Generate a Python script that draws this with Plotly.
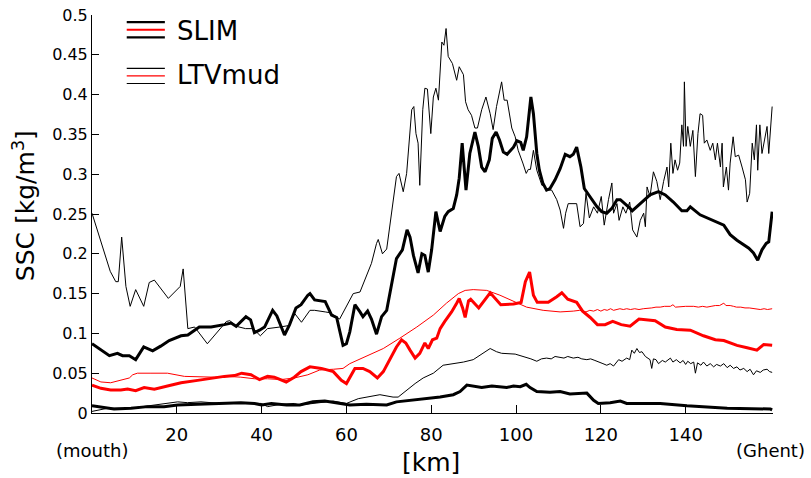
import plotly.graph_objects as go

# ---------------- data (km along estuary, SSC kg/m^3) ----------------
slim_upper = [(0,0.087),(2.1,0.079),(4.1,0.072),(6.0,0.075),(7.2,0.072),(8.8,0.072),(10.3,0.067),(12.2,0.083),
    (14.3,0.078),(16.2,0.084),(18.2,0.091),(21.0,0.097),(22.6,0.098),(25.3,0.108),(28.1,0.108),(31.2,0.111),
    (32.8,0.113),(34.0,0.109),(36.3,0.121),(37.4,0.117),(38.3,0.101),(39.5,0.104),(40.7,0.108),(42.6,0.129),
    (43.6,0.122),(45.4,0.098),(46.6,0.111),(48.1,0.132),(49.3,0.136),(50.9,0.148),(51.4,0.150),(52.5,0.142),
    (55.0,0.140),(56.5,0.123),(57.7,0.120),(59.2,0.085),(60.0,0.087),(60.8,0.102),(62.0,0.136),(63.2,0.127),
    (63.9,0.121),(65.0,0.128),(65.9,0.118),(67.1,0.099),(68.3,0.121),(69.5,0.129),(71.8,0.194),(73.2,0.205),
    (74.3,0.230),(75.0,0.221),(75.8,0.198),(76.9,0.176),(77.8,0.200),(78.5,0.198),(79.3,0.177),(80.1,0.205),
    (81.1,0.253),(82.1,0.228),(83.2,0.247),(84.0,0.253),(85.2,0.257),(86.0,0.274),(86.6,0.295),(87.3,0.339),
    (88.2,0.280),(89.1,0.326),(90.3,0.353),(91.1,0.335),(91.9,0.309),(92.7,0.303),(93.7,0.318),(94.4,0.345),
    (95.3,0.353),(96.1,0.343),(97.0,0.328),(97.9,0.325),(99.4,0.334),(100.2,0.342),(101.1,0.340),(101.7,0.330),
    (102.5,0.347),(103.5,0.397),(104.1,0.376),(104.9,0.326),(105.5,0.305),(106.3,0.289),(107.2,0.280),
    (108.0,0.282),(109.2,0.293),(110.4,0.307),(111.6,0.325),(112.7,0.322),(113.5,0.325),(114.3,0.334),
    (115.3,0.309),(116.1,0.282),(117.5,0.272),(119.1,0.259),(120.2,0.253),(121.4,0.251),(122.6,0.257),
    (123.8,0.268),(124.6,0.268),(125.7,0.263),(126.9,0.257),(127.4,0.254),(129.3,0.263),(131.6,0.274),
    (133.6,0.278),(135.2,0.274),(137.1,0.265),(139.1,0.254),(140.3,0.254),(141.1,0.259),(143.4,0.249),
    (145.0,0.245),(147.4,0.240),(149.0,0.236),(150.5,0.224),(152.1,0.217),(154.9,0.207),(156.0,0.201),
    (157.0,0.192),(158.0,0.205),(159.0,0.213),(159.6,0.215),(160.4,0.253)]

slim_mean = [(0,0.035),(2.1,0.031),(4.4,0.029),(6.8,0.029),(8.4,0.030),(10.3,0.028),(12.3,0.032),(14.7,0.030),
    (17.8,0.034),(21.0,0.038),(24.9,0.041),(28.1,0.044),(31.2,0.046),(33.6,0.047),(35.3,0.050),(37.5,0.048),
    (39.5,0.042),(41.4,0.046),(43.0,0.045),(45.8,0.039),(47.7,0.045),(49.3,0.052),(51.4,0.058),(54.1,0.056),
    (56.9,0.052),(58.8,0.041),(60.0,0.037),(62.0,0.056),(63.9,0.056),(65.5,0.052),(67.3,0.044),(68.7,0.052),
    (70.2,0.067),(71.8,0.083),(73.0,0.092),(74.0,0.088),(75.0,0.079),(76.2,0.069),(77.3,0.075),(78.5,0.088),
    (79.3,0.081),(80.3,0.092),(81.3,0.094),(82.1,0.106),(83.2,0.115),(84.8,0.127),(86.0,0.138),(86.6,0.144),
    (87.4,0.132),(88.0,0.120),(88.8,0.141),(89.3,0.143),(91.2,0.132),(93.9,0.151),(96.4,0.136),(99.4,0.137),
    (101.2,0.139),(102.2,0.165),(103.2,0.177),(104.1,0.148),(105.0,0.139),(107.6,0.139),(109.6,0.146),
    (110.8,0.151),(112.2,0.143),(113.5,0.140),(114.3,0.139),(115.7,0.128),(117.5,0.120),(119.2,0.111),
    (121.0,0.111),(122.8,0.115),(124.8,0.111),(126.9,0.109),(129.0,0.118),(132.8,0.116),(135.2,0.108),
    (137.9,0.105),(141.1,0.104),(144.2,0.097),(147.0,0.092),(149.0,0.091),(152.1,0.085),(154.5,0.082),
    (156.8,0.079),(158.4,0.086),(160.4,0.085)]

slim_lower = [(0,0.009),(2.9,0.007),(5.2,0.005),(9.2,0.006),(13.1,0.008),(17.0,0.008),(20.2,0.010),(24.9,0.011),
    (30.4,0.012),(35.1,0.013),(38.3,0.012),(40.0,0.010),(42.3,0.012),(45.9,0.010),(49.0,0.010),(52.1,0.014),
    (54.9,0.015),(57.7,0.013),(60.8,0.010),(64.7,0.011),(69.5,0.010),(71.8,0.014),(75.0,0.016),(78.9,0.018),
    (82.1,0.020),(85.2,0.023),(86.8,0.027),(88.4,0.035),(89.9,0.034),(91.9,0.032),(94.3,0.034),(96.2,0.033),
    (97.8,0.032),(99.4,0.034),(101.0,0.033),(102.4,0.036),(103.3,0.032),(104.9,0.027),(108.0,0.026),
    (110.4,0.027),(112.7,0.024),(116.7,0.025),(118.3,0.016),(119.4,0.012),(122.2,0.013),(124.6,0.015),
    (126.1,0.012),(134.0,0.012),(137.9,0.010),(140.3,0.009),(149.8,0.006),(160.0,0.005),(160.4,0.004)]

ltv_upper = [(0,0.251),(2.5,0.209),(4.3,0.178),(5.6,0.165),(6.2,0.165),(7.0,0.221),(8.0,0.159),(9.0,0.134),
    (10.3,0.155),(12.2,0.134),(13.5,0.164),(14.7,0.167),(18.0,0.144),(20.8,0.159),(21.5,0.181),(22.6,0.106),
    (24.2,0.108),(27.2,0.087),(29.2,0.100),(31.7,0.115),(32.5,0.116),(34.0,0.109),(36.2,0.106),(38.0,0.106),
    (39.7,0.097),(41.4,0.106),(44.3,0.108),(46.6,0.110),(47.8,0.125),(49.4,0.114),(51.4,0.129),(52.5,0.129),
    (55.0,0.127),(56.1,0.126),(58.4,0.118),(60.0,0.134),(61.6,0.150),(63.2,0.152),(64.7,0.171),(65.9,0.188),
    (67.1,0.213),(67.5,0.218),(68.5,0.200),(69.5,0.206),(71.8,0.297),(72.4,0.301),(73.4,0.278),(74.2,0.301),
    (75.4,0.381),(75.9,0.385),(76.4,0.351),(76.9,0.339),(77.3,0.286),(78.0,0.381),(78.5,0.408),(79.1,0.407),
    (79.9,0.351),(80.5,0.397),(81.1,0.408),(81.7,0.393),(82.5,0.466),(83.0,0.462),(83.5,0.483),(84.0,0.448),
    (85.0,0.439),(86.0,0.418),(86.6,0.435),(87.6,0.425),(88.1,0.391),(88.7,0.381),(89.5,0.374),(90.3,0.358),
    (90.9,0.358),(91.9,0.381),(92.9,0.397),(93.9,0.376),(94.6,0.356),(95.4,0.385),(96.6,0.416),(97.2,0.393),
    (97.9,0.393),(99.0,0.358),(99.8,0.347),(100.5,0.330),(101.6,0.314),(102.4,0.301),(102.9,0.306),
    (103.4,0.306),(104.1,0.330),(104.9,0.305),(106.1,0.286),(106.7,0.286),(107.2,0.280),(108.4,0.280),
    (109.6,0.268),(110.4,0.255),(111.2,0.232),(111.7,0.251),(112.3,0.263),(113.9,0.263),(114.3,0.263),
    (115.1,0.234),(115.9,0.238),(116.5,0.276),(117.3,0.245),(118.3,0.259),(119.2,0.251),(120.1,0.272),
    (120.8,0.236),(121.8,0.268),(122.6,0.289),(123.0,0.251),(123.8,0.263),(124.3,0.242),(125.2,0.259),
    (125.9,0.251),(126.8,0.265),(127.5,0.230),(128.5,0.221),(129.3,0.242),(130.1,0.251),(130.5,0.234),
    (130.9,0.284),(131.6,0.272),(132.4,0.303),(133.2,0.291),(134.0,0.268),(134.8,0.291),(135.6,0.309),
    (136.0,0.284),(136.5,0.339),(137.0,0.301),(137.5,0.318),(138.1,0.305),(138.6,0.314),(139.1,0.362),
    (139.5,0.335),(139.7,0.416),(140.1,0.335),(140.5,0.360),(141.1,0.335),(141.7,0.355),(142.3,0.297),
    (142.9,0.351),(143.4,0.376),(144.0,0.374),(144.4,0.339),(145.0,0.343),(145.8,0.330),(146.4,0.339),
    (147.0,0.318),(147.5,0.339),(148.2,0.309),(148.6,0.339),(148.9,0.284),(149.6,0.309),(150.1,0.280),
    (150.5,0.314),(151.2,0.347),(151.7,0.322),(152.5,0.324),(153.3,0.309),(154.1,0.293),(154.5,0.265),
    (155.1,0.276),(155.7,0.339),(156.2,0.318),(156.7,0.362),(157.0,0.305),(157.5,0.362),(158.0,0.326),
    (158.6,0.343),(159.2,0.360),(159.6,0.326),(160.4,0.385)]

ltv_mean = [(0,0.044),(2.1,0.039),(4.4,0.038),(6.8,0.041),(8.8,0.044),(9.6,0.048),(10.7,0.050),(13.9,0.050),
    (17.8,0.050),(21.8,0.046),(25.7,0.045),(28.9,0.045),(32.0,0.046),(35.1,0.045),(38.3,0.043),(41.4,0.043),
    (44.6,0.042),(47.7,0.044),(50.9,0.048),(53.7,0.054),(57.0,0.055),(59.2,0.056),(60.8,0.062),(64.7,0.071),
    (68.7,0.081),(72.6,0.094),(76.6,0.108),(80.5,0.123),(83.6,0.138),(86.4,0.150),(88.0,0.154),(89.9,0.155),
    (93.1,0.154),(96.2,0.148),(99.4,0.140),(102.5,0.133),(106.4,0.129),(110.4,0.127),(113.5,0.128),
    (115.0,0.129),(116.5,0.127),(117.4,0.129),(118.3,0.128),(119.2,0.130),(120.0,0.128),(120.8,0.130),
    (121.5,0.129),(122.3,0.131),(123.0,0.129),(124.5,0.131),(125.3,0.130),(126.1,0.131),(127.0,0.130),
    (128.0,0.131),(129.0,0.130),(130.0,0.131),(132.0,0.132),(133.0,0.133),(134.0,0.133),(135.0,0.134),
    (136.4,0.134),(137.0,0.136),(137.6,0.133),(139.0,0.134),(140.0,0.134),(141.9,0.134),(143.0,0.133),
    (144.0,0.134),(145.0,0.133),(146.0,0.134),(147.0,0.135),(148.0,0.135),(149.0,0.138),(149.5,0.135),
    (150.5,0.135),(151.3,0.134),(152.0,0.133),(153.0,0.133),(154.0,0.132),(155.0,0.132),(156.0,0.131),
    (157.6,0.130),(158.5,0.131),(159.3,0.130),(160.4,0.131)]

ltv_lower = [(0,0.002),(3.7,0.006),(9.2,0.006),(14.7,0.010),(20.2,0.014),(22.5,0.013),(25.7,0.014),(30.4,0.012),
    (34.3,0.013),(39.9,0.012),(41.4,0.008),(44.6,0.011),(47.7,0.012),(49.0,0.010),(53.0,0.013),(56.9,0.015),
    (60.0,0.012),(62.8,0.018),(67.9,0.023),(71.0,0.020),(72.2,0.020),(74.2,0.029),(76.2,0.037),(78.1,0.044),
    (80.5,0.050),(82.8,0.060),(85.2,0.062),(87.6,0.064),(89.9,0.067),(91.5,0.073),(93.9,0.081),(95.4,0.077),
    (96.6,0.075),(99.8,0.074),(102.5,0.070),(103.5,0.068),(104.9,0.065),(106.0,0.068),(107.2,0.069),
    (108.3,0.068),(109.2,0.071),(110.4,0.070),(111.3,0.069),(112.2,0.071),(113.5,0.069),(114.6,0.070),
    (115.5,0.068),(116.7,0.067),(117.6,0.068),(118.6,0.066),(119.8,0.064),(120.5,0.062),(121.4,0.060),
    (122.2,0.062),(123.0,0.059),(123.6,0.063),(124.2,0.067),(125.0,0.065),(126.1,0.069),(126.8,0.067),
    (127.3,0.079),(127.9,0.075),(128.5,0.081),(129.1,0.076),(129.7,0.077),(130.5,0.071),(131.2,0.069),
    (131.6,0.067),(132.0,0.056),(132.4,0.068),(133.0,0.067),(133.6,0.062),(134.5,0.066),(135.2,0.064),
    (136.4,0.069),(137.0,0.064),(137.8,0.067),(138.7,0.063),(139.4,0.066),(140.0,0.061),(140.5,0.065),
    (141.2,0.062),(141.9,0.064),(142.3,0.050),(142.8,0.063),(143.6,0.060),(144.2,0.064),(145.0,0.059),
    (145.8,0.062),(146.6,0.058),(147.3,0.061),(148.2,0.059),(149.0,0.062),(149.8,0.057),(150.5,0.060),
    (151.3,0.056),(152.1,0.058),(152.8,0.054),(153.7,0.056),(154.5,0.052),(155.2,0.055),(156.0,0.048),
    (156.7,0.053),(157.6,0.051),(158.3,0.054),(159.2,0.055),(159.8,0.052),(160.4,0.051)]

y_ticks = [0, 0.05, 0.1, 0.15, 0.2, 0.25, 0.3, 0.35, 0.4, 0.45, 0.5]
x_ticks = [20, 40, 60, 80, 100, 120, 140]

FONT = "DejaVu Sans"

def xy(pairs):
    return [p[0] for p in pairs], [p[1] for p in pairs]

fig = go.Figure()
series = [
    (ltv_upper, "black", 1),
    (ltv_lower, "black", 1),
    (ltv_mean, "red", 1),
    (slim_upper, "black", 3),
    (slim_lower, "black", 3),
    (slim_mean, "red", 3),
]
for data, col, w in series:
    x, y = xy(data)
    fig.add_trace(go.Scatter(x=x, y=y, mode="lines", line=dict(color=col, width=w),
                             showlegend=False, hoverinfo="skip"))

# custom legend glyphs (three stacked lines)
def glyph(y_top, w):
    ys = [y_top, y_top - 0.019, y_top - 0.038]
    cols = ["black", "red", "black"]
    for yy, c in zip(ys, cols):
        fig.add_shape(type="line", xref="paper", yref="paper", x0=0.051, x1=0.107,
                      y0=yy, y1=yy, line=dict(color=c, width=w))

glyph(0.982, 2.2)
glyph(0.866, 1.1)

fig.add_annotation(text="SLIM", xref="paper", yref="paper", x=0.122, y=0.960,
                   xanchor="left", yanchor="middle", showarrow=False,
                   font=dict(family=FONT, size=26, color="black"))
fig.add_annotation(text="LTVmud", xref="paper", yref="paper", x=0.122, y=0.848,
                   xanchor="left", yanchor="middle", showarrow=False,
                   font=dict(family=FONT, size=26, color="black"))

fig.add_annotation(text="(mouth)", xref="paper", yref="paper", x=0.0, y=-0.095,
                   xanchor="center", yanchor="middle", showarrow=False,
                   font=dict(family=FONT, size=18, color="black"))
fig.add_annotation(text="(Ghent)", xref="paper", yref="paper", x=0.997, y=-0.095,
                   xanchor="center", yanchor="middle", showarrow=False,
                   font=dict(family=FONT, size=18, color="black"))
fig.add_annotation(text="[km]", xref="paper", yref="paper", x=0.498, y=-0.125,
                   xanchor="center", yanchor="middle", showarrow=False,
                   font=dict(family=FONT, size=25, color="black"))
fig.add_annotation(text="SSC [kg/m<sup>3</sup>]", xref="paper", yref="paper", x=-0.100, y=0.522,
                   xanchor="center", yanchor="middle", textangle=-90, showarrow=False,
                   font=dict(family=FONT, size=25, color="black"))

fig.update_layout(
    width=811, height=478,
    margin=dict(l=92, r=38, t=15, b=65, autoexpand=False),
    paper_bgcolor="white", plot_bgcolor="white",
    font=dict(family=FONT, size=16, color="black"),
    showlegend=False,
)
fig.update_xaxes(range=[0, 160.6], tickvals=x_ticks, ticktext=[str(v) for v in x_ticks],
                 showgrid=False, zeroline=False, showline=True, linecolor="black", linewidth=1,
                 ticks="inside", ticklen=8, tickcolor="black", tickwidth=1, automargin=False,
                 tickfont=dict(family=FONT, size=18), ticklabelstandoff=5)
fig.update_yaxes(range=[0, 0.5], tickvals=y_ticks, ticktext=[("%g" % v) for v in y_ticks],
                 showgrid=False, zeroline=False, showline=True, linecolor="black", linewidth=1,
                 ticks="inside", ticklen=7, tickcolor="black", tickwidth=1, automargin=False,
                 tickfont=dict(family=FONT, size=16))

fig.write_html("out.html")
